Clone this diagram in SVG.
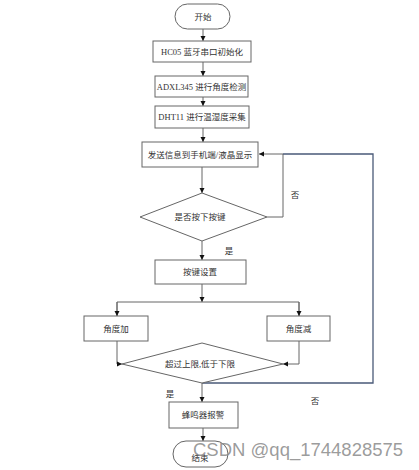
<svg xmlns="http://www.w3.org/2000/svg" width="419" height="470" viewBox="0 0 419 470">
<style>
.n{fill:#fff;stroke:#666;stroke-width:1}
.t{font-family:"Liberation Serif","Noto Sans CJK SC",serif;font-size:8.5px;fill:#333;text-anchor:middle;dominant-baseline:central}
.c{fill:none;stroke:#666;stroke-width:1}
.b{fill:none;stroke:#4a5a78;stroke-width:1.3}
</style>
<defs>
<marker id="ah" markerWidth="6" markerHeight="6" refX="5" refY="3" orient="auto" markerUnits="userSpaceOnUse">
<path d="M0,0.5 L5,3 L0,5.5 Z" fill="#111"/>
</marker>
</defs>
<rect width="419" height="470" fill="#fff"/>
<g id="connectors">
<line class="c" x1="203" y1="29" x2="203" y2="41" marker-end="url(#ah)"/>
<line class="c" x1="203" y1="62" x2="203" y2="76" marker-end="url(#ah)"/>
<line class="c" x1="203" y1="97" x2="203" y2="106" marker-end="url(#ah)"/>
<line class="c" x1="203" y1="128" x2="203" y2="142" marker-end="url(#ah)"/>
<line class="c" x1="202" y1="167" x2="202" y2="193" marker-end="url(#ah)"/>
<polyline class="c" points="267,217 283,217 283,154 259,154" marker-end="url(#ah)"/>
<line class="c" x1="202" y1="241" x2="202" y2="260" marker-end="url(#ah)"/>
<line class="c" x1="202" y1="284" x2="202" y2="302" marker-end="url(#ah)"/>
<polyline class="c" points="117,316 117,302 299,302 299,316"/>
<line class="c" x1="117" y1="302" x2="117" y2="316" marker-end="url(#ah)"/>
<line class="c" x1="299" y1="302" x2="299" y2="316" marker-end="url(#ah)"/>
<polyline class="c" points="117,341 117,364 122,364" marker-end="url(#ah)"/>
<polyline class="c" points="299,341 299,364 283,364" marker-end="url(#ah)"/>
<polyline class="b" points="202,383 373,383 373,154 283,154"/>
<line class="c" x1="202" y1="383" x2="202" y2="402" marker-end="url(#ah)"/>
<line class="c" x1="203" y1="428" x2="203" y2="441" marker-end="url(#ah)"/>
<text class="t" x="295" y="195">否</text>
<text class="t" x="229" y="251">是</text>
<text class="t" x="170" y="394">是</text>
<text class="t" x="315" y="401">否</text>
</g>
<g id="start"><rect class="n" x="175" y="4" width="55" height="25" rx="12.5"/><text class="t" x="203" y="17">开始</text></g>
<g id="hc05"><rect class="n" x="153" y="41" width="98" height="21"/><text class="t" x="202" y="51.5">HC05 蓝牙串口初始化</text></g>
<g id="adxl"><rect class="n" x="155" y="76" width="93" height="21"/><text class="t" x="201.5" y="86.5">ADXL345 进行角度检测</text></g>
<g id="dht"><rect class="n" x="155" y="106" width="94" height="22"/><text class="t" x="202" y="117">DHT11 进行温湿度采集</text></g>
<g id="send"><rect class="n" x="142" y="142" width="116" height="25"/><text class="t" x="200" y="154.5">发送信息到手机端/液晶显示</text></g>
<g id="dec1"><polygon class="n" points="202,193 267,217 202,241 140,217"/><text class="t" x="200" y="217">是否按下按键</text></g>
<g id="keyset"><rect class="n" x="155" y="260" width="91" height="24"/><text class="t" x="200" y="272">按键设置</text></g>
<g id="inc"><rect class="n" x="84" y="316" width="64" height="25"/><text class="t" x="116" y="328.5">角度加</text></g>
<g id="dec"><rect class="n" x="267" y="316" width="63" height="25"/><text class="t" x="298.5" y="328.5">角度减</text></g>
<g id="dec2"><polygon class="n" points="202,343 283,364 202,383 122,364"/><text class="t" x="200" y="364">超过上限,低于下限</text></g>
<g id="buzz"><rect class="n" x="169" y="402" width="69" height="26"/><text class="t" x="203" y="415">蜂鸣器报警</text></g>
<g id="end"><rect class="n" x="173" y="441" width="55" height="26" rx="13"/><text class="t" x="200" y="458">结束</text></g>
<text x="193" y="456" font-family="Liberation Sans,Arial,sans-serif" font-size="18.5" fill="#8a8a8a" fill-opacity="0.85">CSDN @qq_1744828575</text>
</svg>
